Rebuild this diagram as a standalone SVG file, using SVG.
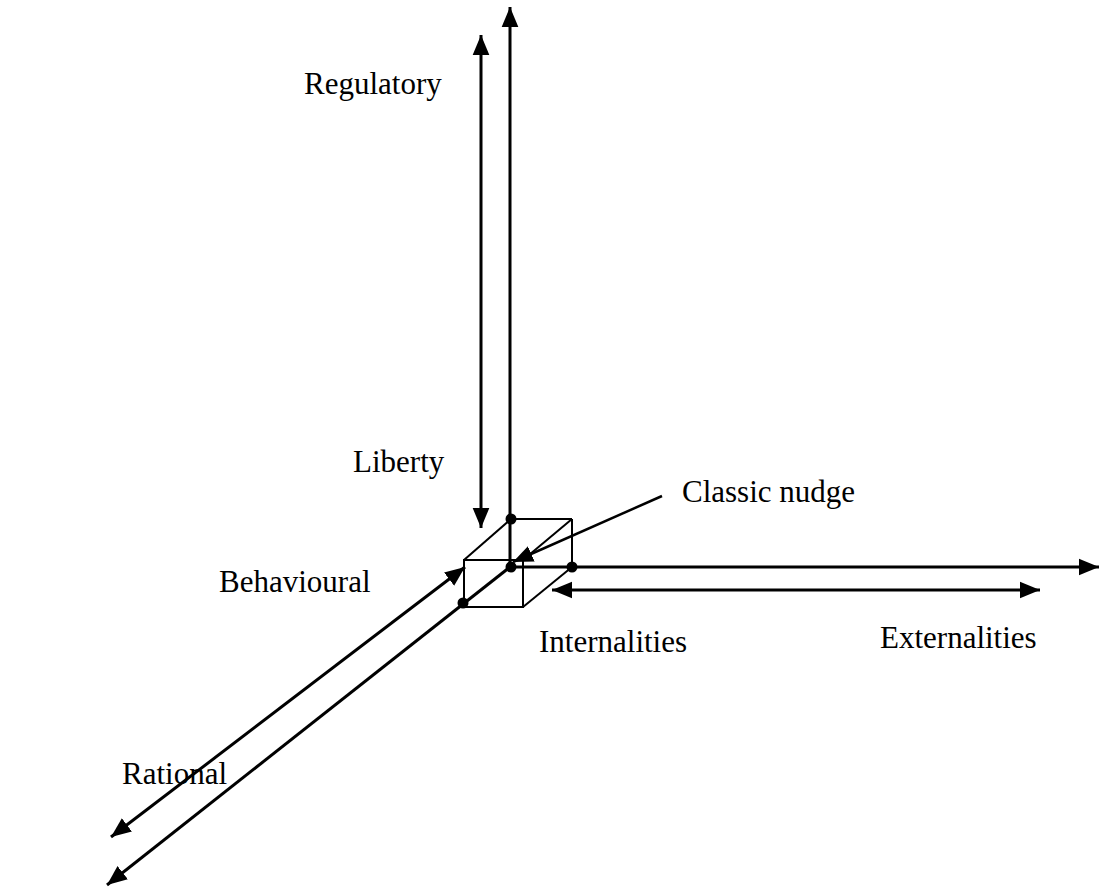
<svg xmlns="http://www.w3.org/2000/svg" width="1100" height="888" viewBox="0 0 1100 888">
<style>
.ax{stroke:#000;stroke-width:3;fill:none}
.cb{stroke:#000;stroke-width:2;fill:none}
.lb{font-family:"Liberation Serif","Times New Roman",serif;font-size:31px;fill:#000}
.dot{fill:#000}
</style>
<defs>
<marker id="ah" markerUnits="userSpaceOnUse" markerWidth="20" markerHeight="18" refX="18" refY="7.5" orient="auto-start-reverse" viewBox="0 0 18 15">
<path d="M0,0 L18,7.5 L0,15 z" fill="#000"/>
</marker>
</defs>
<rect width="1100" height="888" fill="#fff"/>
<g id="cube">
<rect class="cb" x="464" y="560" width="59" height="47"/>
<line class="cb" x1="511" y1="519" x2="572" y2="519"/>
<line class="cb" x1="572" y1="519" x2="572" y2="567"/>
<line class="cb" x1="464" y1="560" x2="511" y2="519"/>
<line class="cb" x1="523" y1="560" x2="572" y2="519"/>
<line class="cb" x1="523" y1="607" x2="572" y2="567"/>
</g>
<g id="connectors">
<line class="ax" x1="510" y1="567" x2="510" y2="7" marker-end="url(#ah)"/>
<line class="ax" x1="481" y1="35" x2="481" y2="528" marker-start="url(#ah)" marker-end="url(#ah)"/>
<line class="ax" x1="510" y1="567" x2="1099" y2="567" marker-end="url(#ah)"/>
<line class="ax" x1="552" y1="590" x2="1040" y2="590" marker-start="url(#ah)" marker-end="url(#ah)"/>
<line class="ax" x1="510" y1="567" x2="107" y2="885" marker-end="url(#ah)"/>
<line class="ax" x1="465" y1="567" x2="111" y2="837" marker-start="url(#ah)" marker-end="url(#ah)"/>
<line class="ax" x1="662" y1="496" x2="513" y2="562" marker-end="url(#ah)" style="stroke-width:2.5"/>
</g>
<g id="dots">
<circle class="dot" cx="511" cy="519" r="5.5"/>
<circle class="dot" cx="511" cy="567" r="5.5"/>
<circle class="dot" cx="572" cy="567" r="5.5"/>
<circle class="dot" cx="463" cy="603" r="5.5"/>
</g>
<g id="label-regulatory"><text class="lb" x="304" y="94">Regulatory</text></g>
<g id="label-liberty"><text class="lb" x="353" y="472">Liberty</text></g>
<g id="label-classic"><text class="lb" x="682" y="502">Classic nudge</text></g>
<g id="label-behavioural"><text class="lb" x="219" y="592">Behavioural</text></g>
<g id="label-internalities"><text class="lb" x="539" y="652">Internalities</text></g>
<g id="label-externalities"><text class="lb" x="880" y="648">Externalities</text></g>
<g id="label-rational"><text class="lb" x="122" y="784">Rational</text></g>
</svg>
